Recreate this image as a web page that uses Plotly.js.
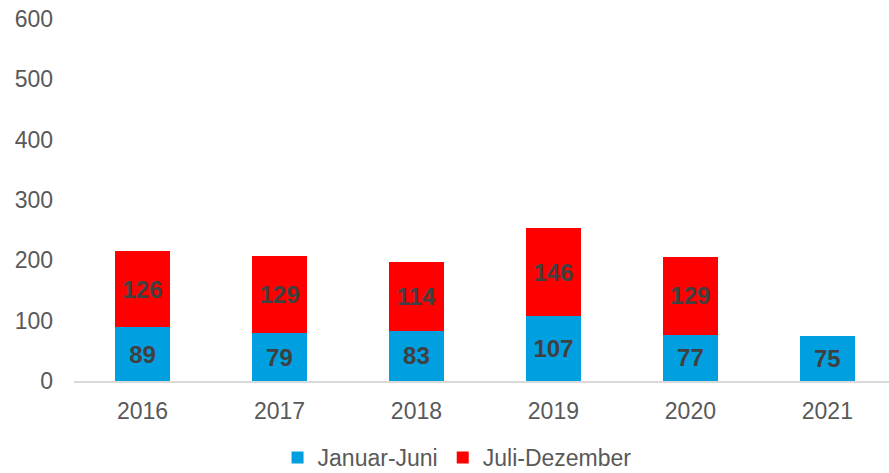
<!DOCTYPE html>
<html>
<head>
<meta charset="utf-8">
<script src="https://cdn.plot.ly/plotly-3.0.1.min.js"></script>
<style>html,body{margin:0;padding:0;background:#fff;}#chart{width:889px;height:473px;}</style>
</head>
<body>
<div id="chart"></div>
<script>
const years = ['2016', '2017', '2018', '2019', '2020', '2021'];
const janJun = [89, 79, 83, 107, 77, 75];
const julDez = [126, 129, 114, 146, 129, null];
const yTicks = [0, 100, 200, 300, 400, 500, 600];

const font = 'Liberation Sans, Arial, sans-serif';
const traces = [
  {
    type: 'bar', name: 'Januar-Juni', x: years, y: janJun,
    marker: {color: '#009FE0'},
    texttemplate: '<b>%{y}</b>', textposition: 'inside', insidetextanchor: 'middle',
    textfont: {family: font, size: 24, color: '#404040'}, textangle: 0,
    hoverinfo: 'skip'
  },
  {
    type: 'bar', name: 'Juli-Dezember', x: years, y: julDez,
    marker: {color: '#FF0000'},
    texttemplate: '<b>%{y}</b>', textposition: 'inside', insidetextanchor: 'middle',
    textfont: {family: font, size: 24, color: '#404040'}, textangle: 0,
    hoverinfo: 'skip'
  }
];
const layout = {
  width: 889, height: 473,
  margin: {l: 74, r: 0, t: 19, b: 92, autoexpand: false},
  barmode: 'stack', bargap: 0.6,
  paper_bgcolor: '#fff', plot_bgcolor: '#fff',
  font: {family: font, size: 23, color: '#595959'},
  showlegend: true,
  legend: {orientation: 'h', x: 0.47, xanchor: 'center', y: -0.152, yanchor: 'top',
           font: {family: font, size: 23, color: '#595959'}, itemwidth: 30, traceorder: 'normal'},
  xaxis: {type: 'category', range: [-0.5, 5.45], showgrid: false, showline: true,
          linecolor: '#D9D9D9', linewidth: 2, ticks: '', ticklabelstandoff: 8,
          tickfont: {family: font, size: 23, color: '#595959'}},
  yaxis: {range: [0, 600], tickvals: yTicks, showgrid: false, zeroline: false, showline: false,
          ticks: '', ticklabelstandoff: 20,
          tickfont: {family: font, size: 23, color: '#595959'}}
};
Plotly.newPlot('chart', traces, layout, {staticPlot: true});
</script>
</body>
</html>
